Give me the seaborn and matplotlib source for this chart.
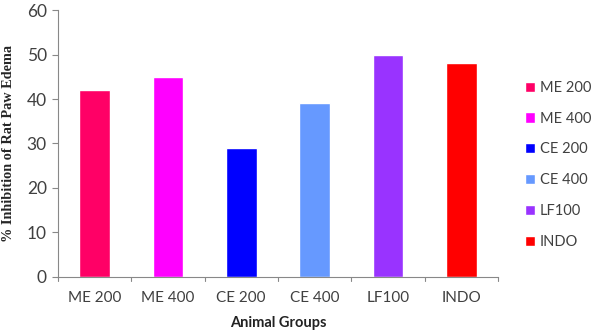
import matplotlib
matplotlib.use("Agg")
import matplotlib.pyplot as plt
import seaborn as sns
import pandas as pd

groups = ["ME 200", "ME 400", "CE 200", "CE 400", "LF100", "INDO"]
inhibition = [42, 45, 29, 39, 50, 48]
colors = ["#FF0066", "#FF00FF", "#0000FF", "#6699FF", "#9933FF", "#FF0000"]
yticks = [0, 10, 20, 30, 40, 50, 60]

df = pd.DataFrame({"group": groups, "value": inhibition})

sns.set_style("white")
plt.rcParams["font.family"] = ["Lato", "DejaVu Sans"]

fig = plt.figure(figsize=(5.97, 3.36), dpi=100)
ax = fig.add_axes([0.097, 0.176, 0.737, 0.794])

sns.barplot(data=df, x="group", y="value", hue="group", palette=colors,
            width=0.42, dodge=False, legend=True, ax=ax, saturation=1)

ax.set_ylim(0, 60)
ax.set_xlim(-0.5, 5.5)
ax.set_yticks(yticks)
ax.tick_params(axis="y", labelsize=12.5, colors="#404040", length=4, width=0.8,
               direction="out", left=True, color="#888888", pad=4)
ax.tick_params(axis="x", labelsize=11, colors="#404040", length=0, pad=10)
for x in [i - 0.5 for i in range(7)]:
    ax.plot([x, x], [0, -1.0], color="#888888", lw=0.8, clip_on=False)

for s in ["top", "right"]:
    ax.spines[s].set_visible(False)
for s in ["left", "bottom"]:
    ax.spines[s].set_color("#888888")
    ax.spines[s].set_linewidth(0.8)

ax.set_xlabel("Animal Groups", fontsize=10.5, fontweight="bold", color="#222222")
ax.xaxis.set_label_coords(0.5, -0.145)
ax.set_ylabel("% Inhibition of Rat Paw Edema", fontsize=10.3, fontweight="bold",
              family="Liberation Serif")
ax.yaxis.set_label_coords(-0.098, 0.5)

leg = ax.legend(loc="center left", bbox_to_anchor=(1.062, 0.42), frameon=False,
                fontsize=10.5, handlelength=0.7, handleheight=0.7,
                labelspacing=1.15, handletextpad=0.3, borderaxespad=0, borderpad=0)
for t in leg.get_texts():
    t.set_color("#404040")

fig.savefig("out.png", dpi=100)
